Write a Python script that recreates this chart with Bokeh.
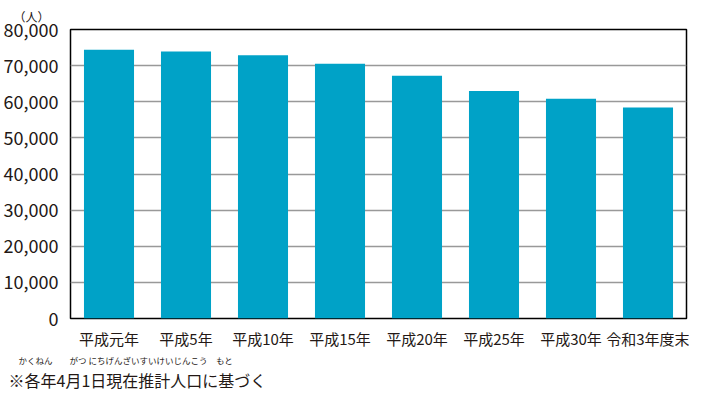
from bokeh.plotting import figure
from bokeh.models import Range1d, FixedTicker, NumeralTickFormatter, Title
from bokeh.embed import file_html
from bokeh.resources import INLINE

categories = ["平成元年", "平成5年", "平成10年", "平成15年", "平成20年", "平成25年", "平成30年", "令和3年度末"]
population = [74400, 73900, 72900, 70500, 67200, 63000, 60800, 58400]
y_ticks = [0, 10000, 20000, 30000, 40000, 50000, 60000, 70000, 80000]
unit_label = "（人）"
note_text = "※各年4月1日現在推計人口に基づく"
ruby_line = "かくねん　　がつ にちげんざいすいけいじんこう　もと"

FONT = "Noto Sans CJK JP"
BAR = "#00a2c7"
TXT = "#231815"
LEFT = 67
TOP = 29

p = figure(x_range=categories, y_range=Range1d(0, 80000), width=689, height=391,
           output_backend="svg", toolbar_location=None,
           min_border_left=LEFT, min_border_right=3, min_border_top=TOP,
           min_border_bottom=40)

p.vbar(x=categories, top=population, width=0.65, color=BAR, line_color=None)

p.outline_line_color = "black"
p.outline_line_width = 1.5
p.xgrid.grid_line_color = None
p.ygrid.grid_line_color = "#999999"
p.ygrid.grid_line_width = 1.5

p.yaxis.ticker = FixedTicker(ticks=y_ticks)
p.yaxis.formatter = NumeralTickFormatter(format="0,0")
for ax in (p.xaxis, p.yaxis):
    ax.axis_line_color = None
    ax.major_tick_line_color = None
    ax.minor_tick_line_color = None
    ax.major_label_text_font = FONT
    ax.major_label_text_color = TXT
p.yaxis.major_label_text_font_size = "18px"
p.yaxis.major_label_standoff = 6
p.xaxis.major_label_text_font_size = "15px"
p.xaxis.major_label_standoff = 3

p.add_layout(Title(text=unit_label, align="left", offset=10 - LEFT, standoff=9,
                   text_font=FONT, text_font_size="12px", text_font_style="normal",
                   text_color=TXT), "above")
p.add_layout(Title(text=ruby_line, align="left", offset=15 - LEFT, standoff=0,
                   text_font=FONT, text_font_size="8.5px", text_font_style="normal",
                   text_color=TXT), "below")
p.add_layout(Title(text=note_text, align="left", offset=5 - LEFT, standoff=0,
                   text_font=FONT, text_font_size="16px", text_font_style="normal",
                   text_color=TXT), "below")

open("out.html", "w").write(file_html(p, INLINE))
